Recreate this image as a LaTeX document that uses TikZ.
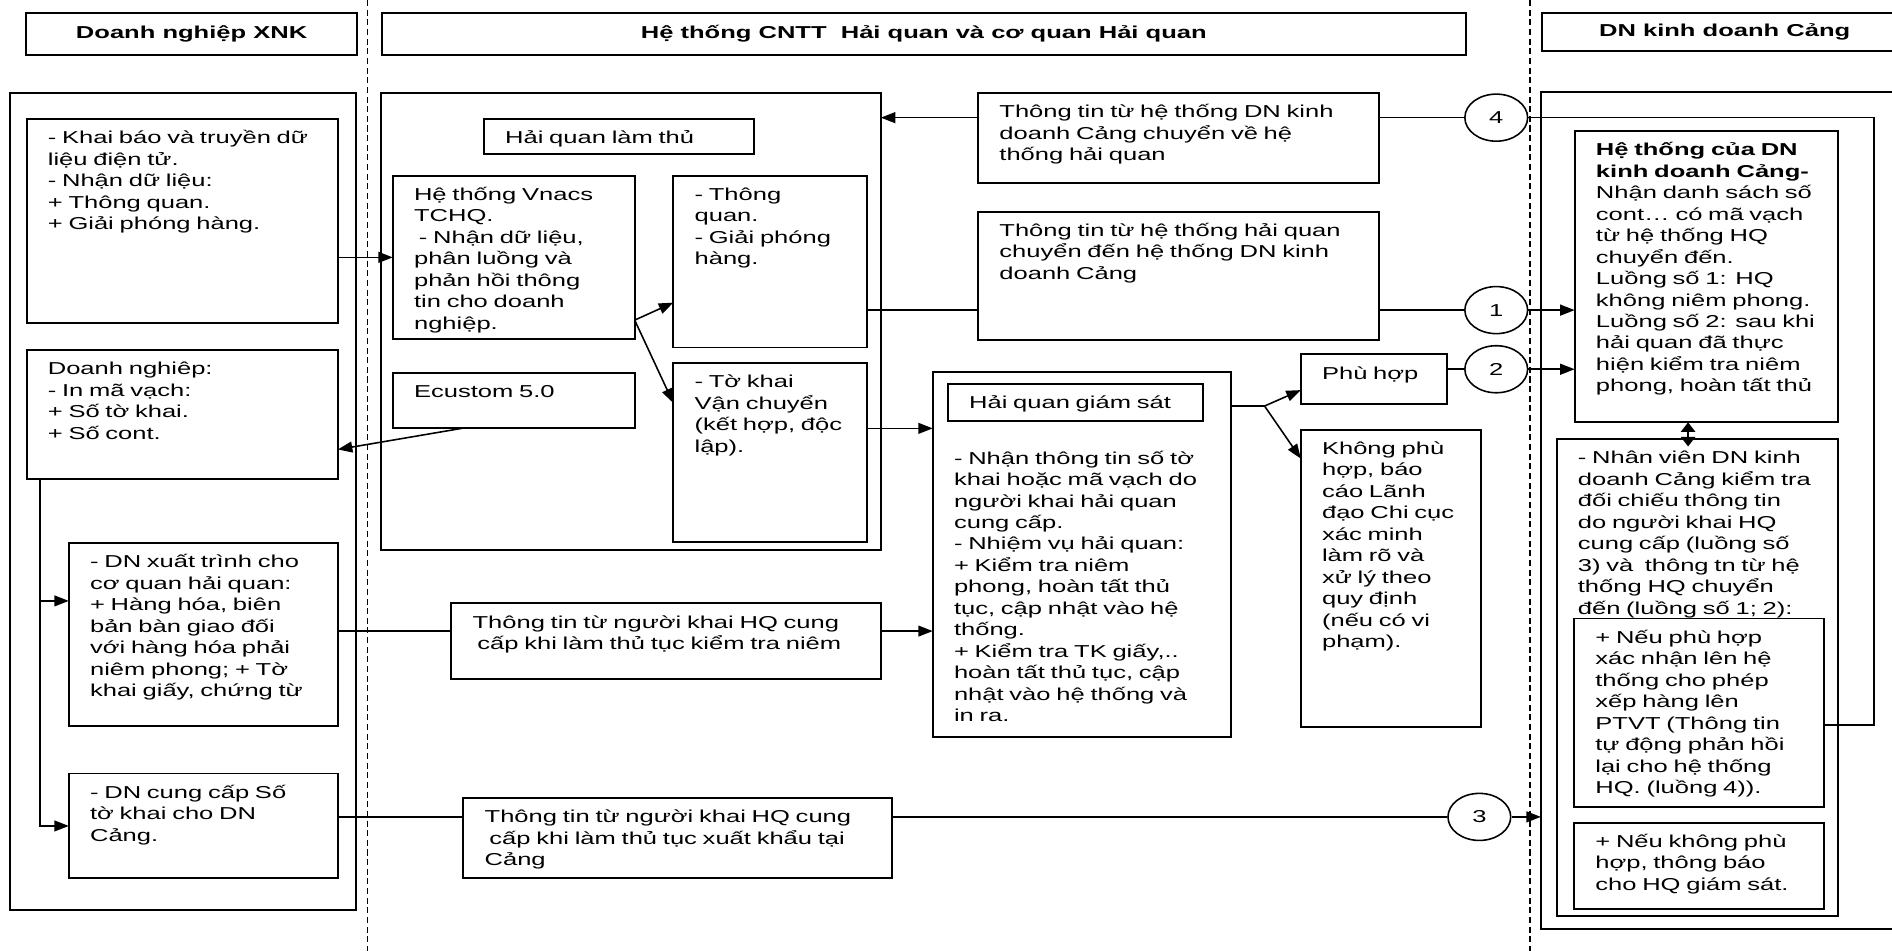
\documentclass[tikz,border=0pt]{standalone}
\usepackage{fontspec}
\setmainfont{Liberation Sans}[FakeStretch=1.48]
\usetikzlibrary{arrows.meta, shapes.geometric}
\newcommand{\bodyfont}{\fontsize{14.3pt}{17.8pt}\selectfont}
\tikzset{
  every picture/.style={line width=1.3pt},
  box/.style={draw, fill=white, anchor=north west, inner sep=0pt, outer sep=0pt, line width=1.6pt},
  txt/.style={anchor=base west, align=left, inner sep=0pt, font=\bodyfont},
  title/.style={draw, anchor=north west, inner sep=0pt, line width=1.6pt, font=\bodyfont\bfseries},
  flow/.style={draw, ellipse, fill=white, minimum width=52pt, minimum height=39pt, inner sep=0pt, font=\bodyfont},
  arrow/.style={-{Triangle[length=12pt, width=9pt]}},
  twoway/.style={{Triangle[length=8pt, width=12pt]}-{Triangle[length=8pt, width=12pt]}},
  lane/.style={dash pattern=on 5pt off 3pt, line width=1.4pt},
}
\newcommand{\card}[6]{% name, x, y, width, height, text
  \node[box, minimum width=#4pt, minimum height=#5pt] (#1) at (#2,#3) {};
  \node[txt, text width=#4pt] (#1-txt) at ([shift={(17pt,-20.5pt)}]#1.north west) {#6};}

\begin{document}
\begin{tikzpicture}[x=1pt, y=-1pt]
  \useasboundingbox (0,0) rectangle (1568,788);
  % lane headers
  \node[title, minimum width=274pt, minimum height=34.6pt] (hdxnk) at (21,10.2) {Doanh nghiệp XNK};
  \node[title, minimum width=898.5pt, minimum height=34.6pt] (hdhq) at (315.5,10.2) {Hệ thống CNTT\ \ Hải quan và cơ quan Hải quan};
  \node[title, minimum width=303pt, minimum height=31.2pt] (hdcang) at (1277,10.2) {DN kinh doanh Cảng};
  \foreach \x in {304.5,1268}
    \draw[lane] (\x,0) -- (\x,788);
  % lane frames
  \node[box, minimum width=287pt, minimum height=677pt] (xnk) at (8,76.8) {};
  \node[box, minimum width=414pt, minimum height=379pt] (mid) at (316,77) {};
  \node[box, minimum width=310pt, minimum height=693.5pt] (cang) at (1277,76.5) {};

  % enterprise column
  \card{decl}{22}{98.6}{258}{169}{- Khai báo và truyền dữ\\liệu điện tử.\\- Nhận dữ liệu:\\+ Thông quan.\\+ Giải phóng hàng.}
  \card{bcode}{22}{290}{258}{107}{Doanh nghiêp:\\- In mã vạch:\\+ Số tờ khai.\\+ Số cont.}
  \card{present}{57}{450}{223}{152}{- DN xuất trình cho\\cơ quan hải quan:\\+ Hàng hóa, biên\\bản bàn giao đối\\với hàng hóa phải\\niêm phong; + Tờ\\khai giấy, chứng từ}
  \card{supply}{57}{641}{223}{87}{- DN cung cấp Số\\tờ khai cho DN\\Cảng.}

  % customs column
  \card{proc}{401}{98.5}{224}{29}{Hải quan làm thủ}
  \card{vnacs}{325.5}{145.6}{200.5}{135.4}{\makebox[162pt][s]{Hệ thống Vnacs}\\TCHQ.\\\hspace*{4pt}- Nhận dữ liệu,\\phân luồng và\\phản hồi thông\\tin cho doanh\\nghiệp.}
  \card{clear}{558}{145.6}{160.5}{142.4}{- Thông\\quan.\\- Giải phóng\\hàng.}
  \card{ecus}{325.5}{309}{200.5}{46}{Ecustom 5.0}
  \card{transit}{558}{301}{160.5}{148}{- Tờ khai\\Vận chuyển\\(kết hợp, độc\\lập).}
  \card{back}{810.6}{77}{332.4}{75}{Thông tin từ hệ thống DN kinh\\doanh Cảng chuyển về hệ\\thống hải quan}
  \card{fwd}{810.6}{175.5}{332.4}{106.5}{Thông tin từ hệ thống hải quan\\chuyển đến hệ thống DN kinh\\doanh Cảng}
  \card{seal}{374}{500}{356}{63}{Thông tin từ người khai HQ cung\\\hspace*{4pt}cấp khi làm thủ tục kiểm tra niêm}
  \card{export}{384}{661.5}{355}{66.5}{Thông tin từ người khai HQ cung\\\hspace*{4pt}cấp khi làm thủ tục xuất khẩu tại\\Cảng}

  % supervision
  \node[box, minimum width=247pt, minimum height=302.4pt] (watch) at (773,308.6) {};
  \card{watchhd}{785.5}{318}{211.5}{31}{Hải quan giám sát}
  \node[txt, text width=230pt] (watch-txt) at ([shift={(17pt,-76pt)}]watch.north west) {- Nhận thông tin số tờ\\khai hoặc mã vạch do\\người khai hải quan\\cung cấp.\\- Nhiệm vụ hải quan:\\+ Kiểm tra niêm\\phong, hoàn tất thủ\\tục, cập nhật vào hệ\\thống.\\+ Kiểm tra TK giấy,..\\hoàn tất thủ tục, cập\\nhật vào hệ thống và\\in ra.};
  \card{match}{1078}{293.6}{121}{41.4}{Phù hợp}
  \card{nomatch}{1078}{356}{149}{246.5}{Không phù\\hợp, báo\\cáo Lãnh\\đạo Chi cục\\xác minh\\làm rõ và\\xử lý theo\\quy định\\(nếu có vi\\phạm).}

  % port column
  \card{port}{1305}{108.5}{218}{241.5}{\textbf{Hệ thống của DN}\\\textbf{kinh doanh Cảng-}\\Nhận danh sách số\\cont… có mã vạch\\từ hệ thống HQ\\chuyển đến.\\Luồng số 1: HQ\\không niêm phong.\\Luồng số 2: sau khi\\hải quan đã thực\\hiện kiểm tra niêm\\phong, hoàn tất thủ}
  \card{staff}{1290}{364}{233}{395}{- Nhân viên DN kinh\\doanh Cảng kiểm tra\\đối chiếu thông tin\\do người khai HQ\\cung cấp (luồng số\\3) và\ \ thông tn từ hệ\\thống HQ chuyển\\đến (luồng số 1; 2):}
  \card{okay}{1304.5}{512.6}{207.5}{156.4}{+ Nếu phù hợp\\xác nhận lên hệ\\thống cho phép\\xếp hàng lên\\PTVT (Thông tin\\tự động phản hồi\\lại cho hệ thống\\HQ. (luồng 4)).}
  \card{notok}{1304.5}{681.7}{207.5}{71.3}{+ Nếu không phù\\hợp, thông báo\\cho HQ giám sát.}

  % numbered flows
  \foreach \n/\x/\y in {4/1240/97.5, 1/1240/257, 2/1240/306, 3/1226/677}
    \node[flow] (c\n) at (\x,\y) {\n};

  % connectors
  \draw[arrow] (decl.east |- vnacs.west) -- (vnacs.west);
  \coordinate (split) at ([yshift=-52pt]vnacs.east);
  \draw[arrow] (split) -- ([yshift=-34pt]clear.west);
  \draw[arrow] (split) -- ([yshift=41pt]transit.west);
  \draw[arrow] ([xshift=-43pt]ecus.south) -- ([yshift=-29pt]bcode.east);
  \draw[arrow] ([xshift=11pt]bcode.south west) |- ([yshift=28pt]present.west);
  \draw[arrow] ([xshift=11pt]bcode.south west) |- (supply.west);
  \coordinate (sealin) at ([yshift=8.5pt]seal.west);
  \draw (present.east |- sealin) -- (sealin);
  \draw[arrow] (seal.east |- sealin) -- (watch.west |- sealin);
  \coordinate (tout) at ([yshift=20pt]transit.east);
  \draw[arrow] (tout) -- (watch.west |- tout);
  \draw (clear.east |- c1) -- (fwd.west |- c1);
  \draw (fwd.east |- c1) -- (c1);
  \draw[arrow] (c1) -- (port.west |- c1);
  \draw[arrow] (back.west |- c4) -- (mid.east |- c4);
  \draw (back.east |- c4) -- (c4);
  \coordinate (loop) at (1553,601);
  \draw (okay.east |- loop) -- (loop) -- (loop |- c4) -- (c4);
  \coordinate (fork) at (1048,336.5);
  \draw (watch.east |- fork) -- (fork);
  \draw[arrow] (fork) -- ([yshift=-9pt]match.west);
  \draw[arrow] (fork) -- ([yshift=-24pt]nomatch.north west);
  \draw (match.east |- c2) -- (c2);
  \draw[arrow] (c2) -- (port.west |- c2);
  \draw (supply.east |- c3) -- (export.west |- c3);
  \draw (export.east |- c3) -- (c3);
  \draw[arrow] (c3) -- (cang.west |- c3);
  \coordinate (link) at ([xshift=-15pt, yshift=-6pt]port.south |- staff.north);
  \draw[twoway] ([xshift=-15pt]port.south) -- (link);
\end{tikzpicture}
\end{document}
